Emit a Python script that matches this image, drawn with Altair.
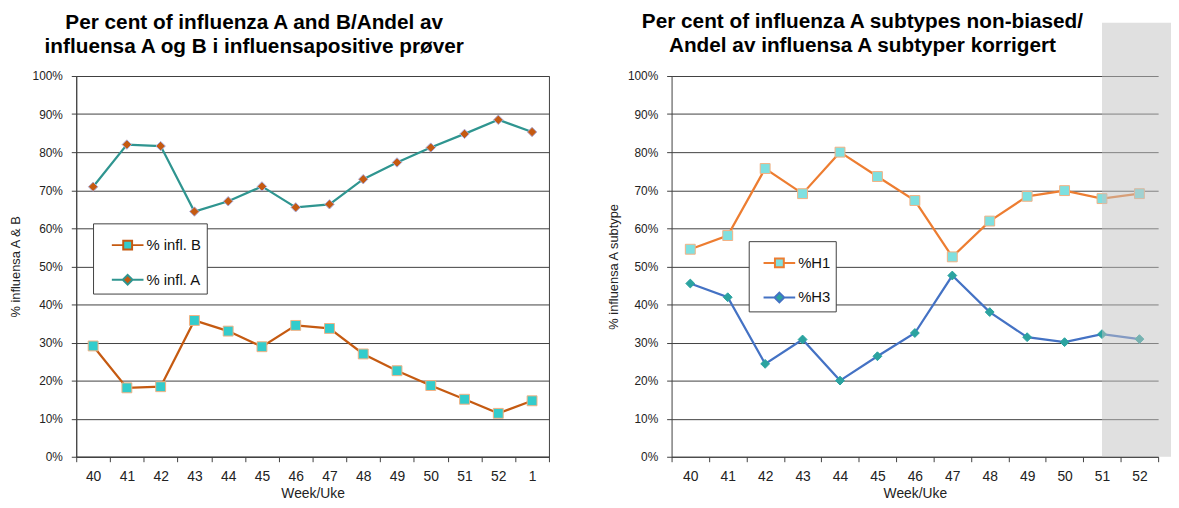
import altair as alt
import pandas as pd

# ---------------- data ----------------
weeks_left = ["40", "41", "42", "43", "44", "45", "46", "47", "48", "49", "50", "51", "52", "1"]
infl_b = [29.1, 18.1, 18.4, 35.8, 33.0, 28.9, 34.5, 33.7, 27.0, 22.6, 18.7, 15.1, 11.4, 14.7]
infl_a = [70.9, 82.0, 81.6, 64.4, 67.1, 71.0, 65.5, 66.3, 72.9, 77.3, 81.2, 84.8, 88.5, 85.3]

weeks_right = ["40", "41", "42", "43", "44", "45", "46", "47", "48", "49", "50", "51", "52"]
h1 = [54.5, 58.1, 75.7, 69.1, 80.0, 73.6, 67.3, 52.5, 61.9, 68.4, 69.9, 67.8, 69.1]
h3 = [45.5, 41.9, 24.4, 30.8, 20.0, 26.4, 32.5, 47.6, 38.0, 31.4, 30.1, 32.2, 30.9]
shade_from = "51"

left_series = ["% infl. B", "% infl. A"]
right_series = ["%H1", "%H3"]

FONT = "Liberation Sans"
GRID = "#404040"

# colours
B_LINE, B_FILL, B_EDGE = "#C55A11", "#33CCCC", "#F4B183"
A_LINE, A_FILL, A_EDGE = "#2F9590", "#C55A11", "#A9A9D9"
H1_LINE, H1_FILL, H1_EDGE = "#ED7D31", "#7FE0E0", "#F4B183"
H3_LINE, H3_FILL, H3_EDGE = "#4472C4", "#2BA3A0", "#2BA3A0"

SQ_PATH = "M-1,0H-0.3M0.3,0H1M-0.28,-0.28H0.28V0.28H-0.28Z"
DI_PATH = "M-1,0H-0.31M0.31,0H1M0,-0.31L0.31,0L0,0.31L-0.31,0Z"

W1, W2, H = 478, 492, 385

df_left = pd.DataFrame({
    "week": weeks_left * 2,
    "series": [left_series[0]] * len(weeks_left) + [left_series[1]] * len(weeks_left),
    "value": infl_b + infl_a,
})
df_right = pd.DataFrame({
    "week": weeks_right * 2,
    "series": [right_series[0]] * len(weeks_right) + [right_series[1]] * len(weeks_right),
    "value": h1 + h3,
})


def yaxis(title, tpad):
    return alt.Axis(
        title=title, values=list(range(0, 101, 10)), labelExpr="datum.value + '%'",
        grid=True, gridColor=GRID, gridWidth=1, domainColor=GRID, tickColor=GRID,
        tickSize=5, labelPadding=9, labelFont=FONT, labelFontSize=12, labelColor="#222",
        titleFont=FONT, titleFontSize=13, titleFontWeight="normal", titleColor="#222",
        titlePadding=tpad,
    )


def xaxis():
    return alt.Axis(
        title="Week/Uke", labelAngle=0, tickBand="extent", grid=False,
        domainColor=GRID, tickColor=GRID, tickSize=5, labelPadding=8,
        labelFont=FONT, labelFontSize=14, labelColor="#222",
        titleFont=FONT, titleFontSize=14, titleFontWeight="normal", titleColor="#222",
        titlePadding=3,
    )


def xscale():
    return alt.Scale(paddingInner=0, paddingOuter=0)


def yscale():
    return alt.Scale(domain=[0, 100], nice=False)


def panel(df, weeks, series, lines, fills, edges, shapes, paths, leg_pos, ytitle, tpad, sizes, spaces):
    xenc = alt.X("week:O", sort=weeks, scale=xscale(), axis=xaxis())
    yenc = alt.Y("value:Q", scale=yscale(), axis=yaxis(ytitle, tpad))
    base = alt.Chart(df)
    leg = alt.Legend(
        title=None, orient="none", legendX=leg_pos[0], legendY=leg_pos[1],
        fillColor="white", strokeColor=GRID, padding=5, symbolOffset=leg_pos[2],
        labelFont=FONT, labelFontSize=15, labelColor="#111",
        labelOffset=2, rowPadding=9, symbolSize=1024,
        symbolStrokeWidth=2, symbolOpacity=1,
        labelExpr="datum.label + '" + " " * spaces + "'",
    )
    line = base.mark_line(strokeWidth=2.25).encode(
        x=xenc, y=yenc,
        stroke=alt.Stroke("series:N", scale=alt.Scale(domain=series, range=lines), legend=leg),
    )
    layers = [line]
    for s, f, e, sh, sz in zip(series, fills, edges, shapes, sizes):
        layers.append(
            base.transform_filter(alt.datum.series == s).mark_point(
                shape=sh, filled=True, fill=f, stroke=e, strokeWidth=1, size=sz, opacity=1
            ).encode(x=xenc, y=yenc)
        )
    legend_layer = base.transform_filter("false").mark_point(opacity=1).encode(
        x=xenc, y=yenc,
        shape=alt.Shape("series:N", scale=alt.Scale(domain=series, range=paths), legend=leg),
        fill=alt.Fill("series:N", scale=alt.Scale(domain=series, range=fills), legend=leg),
        stroke=alt.Stroke("series:N", scale=alt.Scale(domain=series, range=lines), legend=leg),
    )
    layers.append(legend_layer)
    return layers


left_layers = panel(
    df_left, weeks_left, left_series, [B_LINE, A_LINE], [B_FILL, A_FILL], [B_EDGE, A_EDGE],
    ["square", "diamond"], [SQ_PATH, DI_PATH], (17, 149, 13), "% influensa A & B", 10, [100, 90], 3,
)
left = alt.layer(*left_layers).properties(
    width=W1, height=H,
    title=alt.TitleParams(
        text=["Per cent of influenza A and B/Andel  av", "influensa A og B i influensapositive prøver"],
        font=FONT, fontSize=21, fontWeight="bold", color="#000", anchor="middle",
        dx=-59, lineHeight=25, offset=13,
    ),
    view=alt.ViewBackground(stroke=GRID, strokeWidth=1),
)

RY_TITLE, RY_PAD = "% influensa A subtype", 7
right_layers = panel(
    df_right, weeks_right, right_series, [H1_LINE, H3_LINE], [H1_FILL, H3_FILL], [H1_EDGE, H3_EDGE],
    ["square", "diamond"], [SQ_PATH, DI_PATH], (78, 167, 9), RY_TITLE, RY_PAD, [100, 80], 1,
)
shade_df = pd.DataFrame({"week": [shade_from], "lo": [0], "hi": [114]})
shade = alt.Chart(shade_df).mark_rect(color="#C2C2C2", opacity=0.5, clip=False).encode(
    x=alt.X("week:O", sort=weeks_right, bandPosition=0.5, scale=xscale(), axis=xaxis()),
    x2=alt.value(W2 + 13),
    y=alt.Y("lo:Q", scale=yscale(), axis=yaxis(RY_TITLE, RY_PAD)),
    y2="hi:Q",
)
right = alt.layer(*right_layers, shade).properties(
    width=W2, height=H,
    title=alt.TitleParams(
        text=["Per cent of influenza A subtypes non-biased/", "Andel av influensa A subtyper korrigert"],
        font=FONT, fontSize=21, fontWeight="bold", color="#000", anchor="middle",
        dx=-53, lineHeight=25, offset=-34,
    ),
    view=alt.ViewBackground(stroke=None),
)

chart = alt.hconcat(left, right, spacing=58).resolve_scale(
    x="independent", y="independent", stroke="independent", fill="independent", shape="independent"
).properties(
    padding={"top": 0, "left": 0, "right": 0, "bottom": 0}
).configure(background="white").configure_view(stroke=None)

chart.save("out.html", embed_options={"renderer": "svg", "actions": False})
